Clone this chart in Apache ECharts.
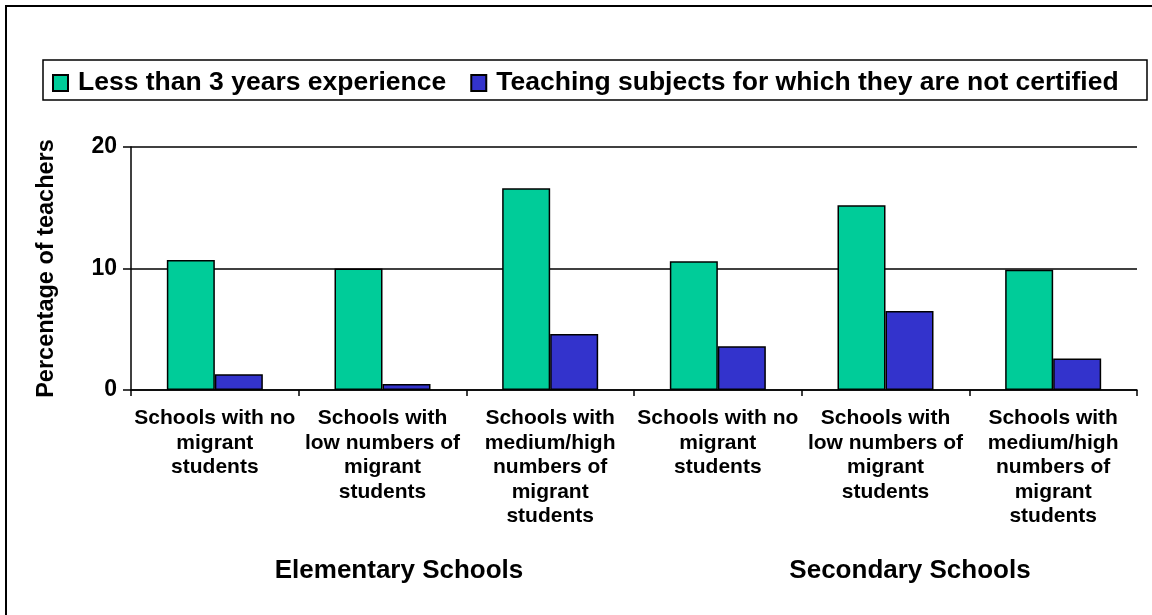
<!DOCTYPE html>
<html>
<head>
<meta charset="utf-8">
<script src="https://cdn.jsdelivr.net/npm/echarts@6/dist/echarts.min.js"></script>
<style>
html, body { margin: 0; padding: 0; background: #fff; }
#main { width: 1152px; height: 615px; }
</style>
</head>
<body>
<div id="main"></div>
<script>
// data
const categories = [
	'Schools with no\nmigrant\nstudents',
	'Schools with\nlow numbers of\nmigrant\nstudents',
	'Schools with\nmedium/high\nnumbers of\nmigrant\nstudents',
	'Schools with no\nmigrant\nstudents',
	'Schools with\nlow numbers of\nmigrant\nstudents',
	'Schools with\nmedium/high\nnumbers of\nmigrant\nstudents'
];
const lessThan3Years = [10.7, 10.0, 16.6, 10.6, 15.2, 9.9];
const notCertified = [1.3, 0.5, 4.6, 3.6, 6.5, 2.6];
const seriesNames = ['Less than 3 years experience', 'Teaching subjects for which they are not certified'];
const groupLabels = ['Elementary Schools', 'Secondary Schools'];
const yMax = 20;
const yStep = 10;

const FONT = '"Liberation Sans", Arial, sans-serif';

const chart = echarts.init(document.getElementById('main'), null, { renderer: 'canvas' });

function groupText(label, x) {
	return {
		type: 'text', silent: true, x: x, y: 571,
		style: { text: label, font: 'bold 26px ' + FONT, fill: '#000', align: 'center', verticalAlign: 'middle' }
	};
}

let option = {
	backgroundColor: '#fff',
	animation: false,
	textStyle: { fontFamily: FONT },
	graphic: [
		{ // outer frame
			type: 'rect', silent: true,
			shape: { x: 6, y: 6, width: 1160, height: 700 },
			style: { fill: 'none', stroke: '#000', lineWidth: 2 }
		},
		{ // legend frame
			type: 'rect', silent: true,
			shape: { x: 43, y: 60, width: 1104, height: 40 },
			style: { fill: 'none', stroke: '#000', lineWidth: 1.5 }
		},
		groupText(groupLabels[0], 399),
		groupText(groupLabels[1], 910)
	],
	legend: {
		left: 47,
		top: 63,
		icon: 'rect',
		itemWidth: 15,
		itemHeight: 16,
		itemGap: 24,
		textStyle: {
			fontSize: 26.5, fontWeight: 'bold', color: '#000', fontFamily: FONT,
			lineHeight: 30, padding: [0, 0, 0, 5]
		},
		data: seriesNames
	},
	grid: { left: 131, right: 15, top: 147, bottom: 225, containLabel: false },
	xAxis: {
		type: 'category',
		data: categories,
		axisLine: { lineStyle: { color: '#000', width: 1.5 } },
		axisTick: { show: true, length: 6, lineStyle: { color: '#000', width: 1.5 } },
		axisLabel: {
			interval: 0, margin: 16, color: '#000', fontSize: 21, fontWeight: 'bold',
			lineHeight: 24.5, fontFamily: FONT, align: 'center'
		}
	},
	yAxis: {
		type: 'value',
		min: 0,
		max: yMax,
		interval: yStep,
		name: 'Percentage of teachers',
		nameLocation: 'middle',
		nameGap: 72,
		nameRotate: 90,
		nameTextStyle: { fontSize: 23.5, fontWeight: 'bold', color: '#000', fontFamily: FONT },
		axisLine: { show: true, lineStyle: { color: '#000', width: 1.5 } },
		axisTick: { show: true, length: 8, lineStyle: { color: '#000', width: 1.5 } },
		axisLabel: { margin: 14, color: '#000', fontSize: 23, fontWeight: 'bold', fontFamily: FONT },
		splitLine: { show: true, lineStyle: { color: '#000', width: 1.5 } }
	},
	series: [
		{
			name: seriesNames[0],
			type: 'bar',
			data: lessThan3Years,
			barWidth: 48,
			barGap: '0%',
			itemStyle: { color: '#00CC99', borderColor: '#000', borderWidth: 1.5 }
		},
		{
			name: seriesNames[1],
			type: 'bar',
			data: notCertified,
			barWidth: 48,
			barGap: '0%',
			itemStyle: { color: '#3333CC', borderColor: '#000', borderWidth: 1.5 }
		}
	]
};

chart.setOption(option);
</script>
</body>
</html>
